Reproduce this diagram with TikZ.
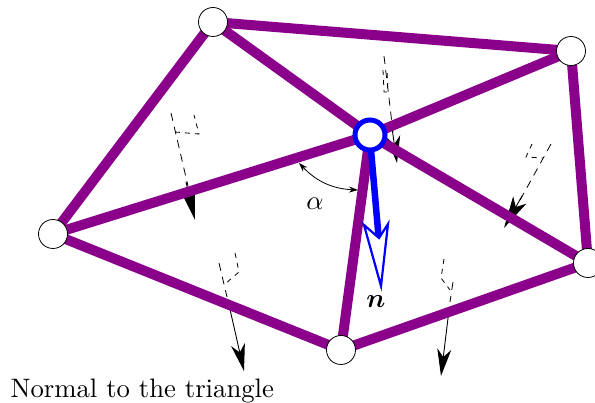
\documentclass[tikz,border=0pt]{standalone}
\usepackage{amsmath,bm}
\usetikzlibrary{arrows.meta}
\definecolor{edgepurple}{RGB}{139,0,139}
\tikzset{
  edgeline/.style={draw=edgepurple,line width=10pt},
  vertexdot/.style={circle,draw=black,fill=white,line width=0.8pt,minimum size=29pt,inner sep=0pt},
  activedot/.style={circle,draw=blue,fill=white,line width=5pt,minimum size=30pt,inner sep=0pt},
  normaldash/.style={draw=black,line width=0.8pt,dash pattern=on 8pt off 6pt},
  angledash/.style={draw=black,line width=0.8pt,dash pattern=on 5pt off 5pt},
  normalsolid/.style={draw=black,line width=0.9pt},
  normaltip/.style={-{Stealth[length=27pt,width=14pt,inset=8pt]}},
  longtip/.style={-{Stealth[length=32pt,width=15pt,inset=8pt]}},
  labeltext/.style={inner sep=0pt,scale=2.67,font=\fontsize{10}{12}\selectfont},
}
\begin{document}
\begin{tikzpicture}[x=1pt,y=-1pt]
\useasboundingbox (0,0) rectangle (595,403);
\coordinate (pa) at (213,22);
\coordinate (pb) at (571,51);
\coordinate (pc) at (370,135);
\coordinate (pd) at (53,234);
\coordinate (pe) at (588,263);
\coordinate (pf) at (341,350);
% normals
\draw[normaldash] (384,56) -- (393,132);
\draw[angledash] (383,70) -- (384,92) -- (388,92) -- (387,70);
\draw[normalsolid,normaltip] (392,128) -- (397,163);
\draw[normaldash] (171,113) -- (188,186);
\draw[angledash] (175,132) -- (199,134) -- (194,115);
\draw[normalsolid,longtip] (186,182) -- (195,220);
\draw[normaldash] (551,144) -- (519,202);
\draw[angledash] (532,144) -- (526,157) -- (543,158);
\draw[normalsolid,longtip] (522,196) -- (504,228);
\draw[normaldash] (219,263) -- (227,297);
\draw[angledash] (235,253) -- (239,272) -- (225,284);
\draw[normalsolid,normaltip] (229,305) -- (244,371);
\draw[normaldash] (453,282) -- (450,302);
\draw[angledash] (444,259) -- (441,278) -- (450,290);
\draw[normalsolid,normaltip] (449,310) -- (441,376);
% edges
\draw[edgeline] (pa) -- (pb);
\draw[edgeline] (pa) -- (pd);
\draw[edgeline] (pa) -- (pc);
\draw[edgeline] (pb) -- (pc);
\draw[edgeline] (pb) -- (pe);
\draw[edgeline] (pc) -- (pd);
\draw[edgeline] (pc) -- (pe);
\draw[edgeline] (pc) -- (pf);
\draw[edgeline] (pd) -- (pf);
\draw[edgeline] (pe) -- (pf);
% angle
\coordinate (ang1) at (299,163);
\coordinate (ang2) at (358,190);
\draw[line width=0.8pt,{Stealth[length=9pt,width=6pt]}-{Stealth[length=9pt,width=6pt]}] (ang1) to[bend right=22] (ang2);
% blue normal
\draw[blue,line width=6.5pt] (371,150) -- (378.5,236);
\draw[blue,fill=white,line width=2.2pt,line join=miter] (379,238) -- (364,225) -- (381,286) -- (388,224) -- cycle;
% vertices
\node[vertexdot] (va) at (pa) {};
\node[vertexdot] (vb) at (pb) {};
\node[vertexdot] (vd) at (pd) {};
\node[vertexdot] (ve) at (pe) {};
\node[vertexdot] (vf) at (pf) {};
\node[activedot] (vc) at (pc) {};
% labels
\node[labeltext] (alpha) at (315,204) {$\alpha$};
\node[labeltext] (nlabel) at (376,302) {$\bm{n}$};
\node[labeltext,anchor=base west] (caption) at (10,398) {Normal to the triangle};
\end{tikzpicture}
\end{document}
